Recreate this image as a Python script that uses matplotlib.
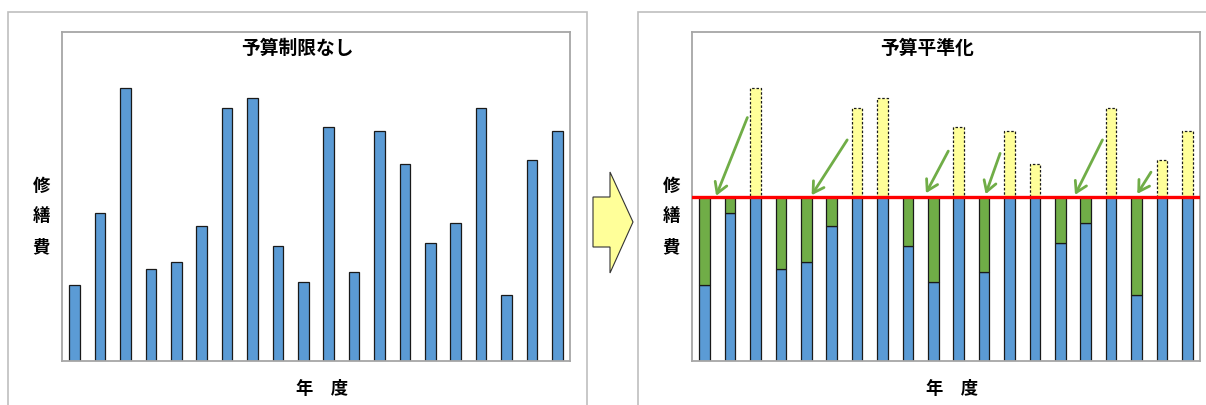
import matplotlib
matplotlib.use("Agg")
import matplotlib.pyplot as plt
from matplotlib.patches import Rectangle, Polygon

plt.rcParams['font.family'] = ['Noto Sans CJK JP', 'DejaVu Sans']

# 年度ごとの修繕費（相対値）
years = list(range(20))
costs = [23, 45, 83, 28, 30, 41, 77, 80, 35, 24,
         71, 27, 70, 60, 36, 42, 77, 20, 61, 70]
budget_cap = 50

# 平準化の矢印（移動元 → 移動先）
arrow_from = [(1.68, 74.0), (5.61, 67.2), (9.59, 63.8), (11.63, 63.1), (15.66, 67.2), (17.57, 57.4)]
arrow_to = [(0.45, 50.2), (4.21, 50.4), (8.71, 51.0), (11.06, 50.7), (14.58, 50.5), (17.03, 50.8)]

BLUE = '#5B9BD5'
GREEN = '#70AD47'
YELLOW = '#FFFF99'
RED = '#FF0000'

W, H = 1206, 405


def px_box(x0, y0, x1, y1):
    # ピクセル座標 → figure 座標
    return [x0 / W, 1 - y1 / H, (x1 - x0) / W, (y1 - y0) / H]


def setup_axes(ax):
    ax.set_xlim(-0.5, len(years) - 0.5)
    ax.set_ylim(0, 100)
    ax.set_xticks([])
    ax.set_yticks([])
    for s in ax.spines.values():
        s.set_color('#A6A6A6')
        s.set_linewidth(1.3)


def labels(ax, title, title_x):
    ax.text(title_x, 0.95, title, transform=ax.transAxes, ha='center', va='center',
            fontsize=13.5, fontweight='bold')
    for i, ch in enumerate(['修', '繕', '費']):
        ax.text(-0.041, 0.533 - i * 0.0935, ch, transform=ax.transAxes,
                ha='center', va='center', fontsize=12.5, fontweight='bold')
    ax.text(0.512, -0.085, '年　度', transform=ax.transAxes, ha='center', va='center',
            fontsize=12.5, fontweight='bold')


fig = plt.figure(figsize=(W / 100, H / 100), dpi=100)

# チャート外枠
fig.add_artist(Rectangle((8 / W, -0.1), 579 / W, 1.1 - 12 / H, transform=fig.transFigure,
                         fill=False, edgecolor='#BFBFBF', lw=1.2))
fig.add_artist(Rectangle((638 / W, -0.1), 0.6, 1.1 - 12 / H, transform=fig.transFigure,
                         fill=False, edgecolor='#BFBFBF', lw=1.2))

# 予算制限なし
ax1 = fig.add_axes(px_box(62, 32, 570, 361))
setup_axes(ax1)
ax1.bar(years, costs, width=0.42, color=BLUE, edgecolor='#1a1a1a', lw=0.9)
labels(ax1, '予算制限なし', (297.5 - 62) / 508)

# 予算平準化
ax2 = fig.add_axes(px_box(692, 32, 1200, 361))
setup_axes(ax2)
base = [min(c, budget_cap) for c in costs]
fill = [budget_cap - c if c < budget_cap else 0 for c in costs]
over = [c - budget_cap if c > budget_cap else 0 for c in costs]
ax2.bar(years, base, width=0.42, color=BLUE, edgecolor='#1a1a1a', lw=0.9)
ax2.bar(years, fill, bottom=base, width=0.42, color=GREEN, edgecolor='#1a1a1a', lw=0.9)
over_x = [x for x, o in zip(years, over) if o > 0]
over_h = [o for o in over if o > 0]
ax2.bar(over_x, over_h, bottom=budget_cap, width=0.42, color=YELLOW,
        edgecolor='#1a1a1a', lw=0.9, linestyle=(0, (2, 1.5)))
ax2.axhline(budget_cap, color=RED, lw=2.4, zorder=5)
for (x0, y0), (x1, y1) in zip(arrow_from, arrow_to):
    ax2.annotate('', xy=(x1, y1), xytext=(x0, y0),
                 arrowprops=dict(arrowstyle='->,head_length=0.5,head_width=0.3',
                                 color=GREEN, lw=2, mutation_scale=15,
                                 shrinkA=0, shrinkB=0), zorder=6)
labels(ax2, '予算平準化', (927 - 692) / 508)

# 中央の矢印
arrow_pts = [(593, 197), (610, 197), (610, 172), (633, 222), (610, 273), (610, 247), (593, 247)]
fig.add_artist(Polygon([(x / W, 1 - y / H) for x, y in arrow_pts], closed=True,
                       transform=fig.transFigure, facecolor=YELLOW,
                       edgecolor='#333333', lw=0.8))

fig.savefig('out.png', dpi=100)
